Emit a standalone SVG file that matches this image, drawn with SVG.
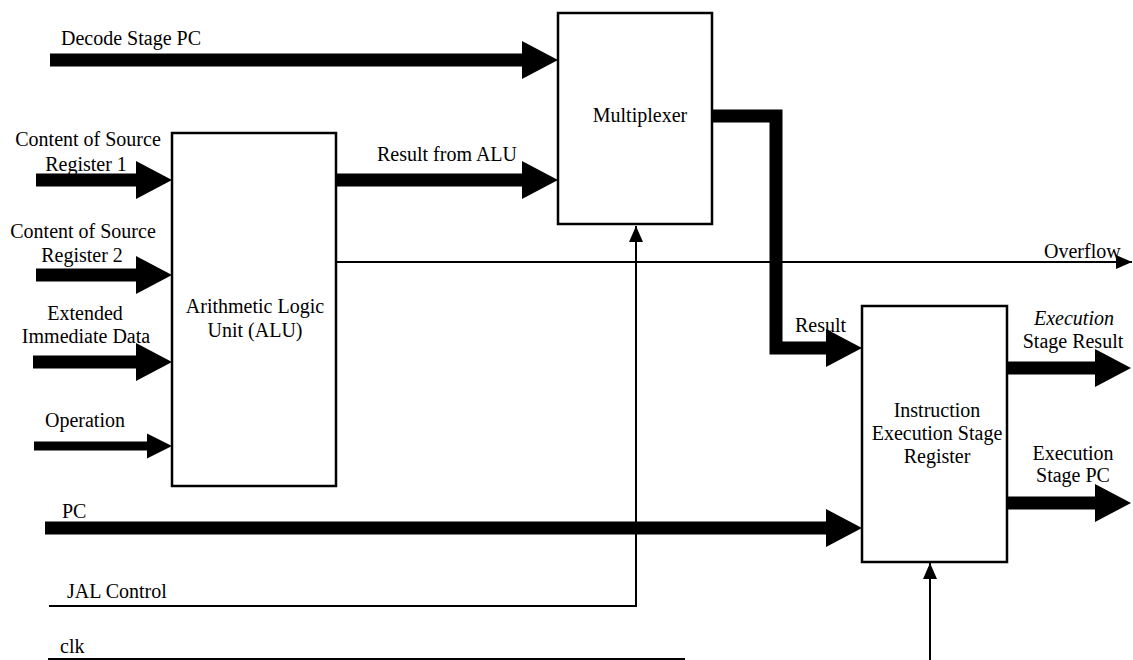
<svg xmlns="http://www.w3.org/2000/svg" width="1133" height="660" viewBox="0 0 1133 660">
<defs>
<style>
.box{fill:#fff;stroke:#000;stroke-width:2.5}
.t{font-family:"Liberation Serif","Times New Roman",serif;font-size:20px;fill:#000}
.c{text-anchor:middle}
.thick{stroke:#000;stroke-width:13;fill:none;stroke-linejoin:miter}
.op{stroke:#000;stroke-width:9;fill:none}
.thin{stroke:#000;stroke-width:2;fill:none}
</style>
<marker id="big" markerUnits="userSpaceOnUse" markerWidth="38" markerHeight="40" refX="0" refY="19" orient="auto" overflow="visible">
<path d="M0,0 L36,19 L0,38 z" fill="#000"/>
</marker>
<marker id="mid" markerUnits="userSpaceOnUse" markerWidth="26" markerHeight="26" refX="0" refY="12.5" orient="auto" overflow="visible">
<path d="M0,0 L25,12.5 L0,25 z" fill="#000"/>
</marker>
<marker id="small" markerUnits="userSpaceOnUse" markerWidth="16" markerHeight="14" refX="16" refY="7" orient="auto" overflow="visible">
<path d="M0,0 L16,7 L0,14 z" fill="#000"/>
</marker>
</defs>
<rect width="1133" height="660" fill="#fff"/>

<g id="connectors">
<line class="thick" x1="50" y1="60" x2="522" y2="60" marker-end="url(#big)"/>
<line class="thick" x1="36" y1="180" x2="136" y2="180" marker-end="url(#big)"/>
<line class="thick" x1="336" y1="180" x2="522" y2="180" marker-end="url(#big)"/>
<line class="thick" x1="36" y1="275" x2="136" y2="275" marker-end="url(#big)"/>
<line class="thick" x1="33" y1="362" x2="136" y2="362" marker-end="url(#big)"/>
<line class="op" x1="34" y1="446" x2="147" y2="446" marker-end="url(#mid)"/>
<line class="thick" x1="45" y1="528" x2="826" y2="528" marker-end="url(#big)"/>
<path class="thick" d="M712,116 H776 V348 H826" marker-end="url(#big)"/>
<line class="thick" x1="1007" y1="368" x2="1095" y2="368" marker-end="url(#big)"/>
<line class="thick" x1="1007" y1="503" x2="1095" y2="503" marker-end="url(#big)"/>
<line class="thin" x1="336" y1="262" x2="1132" y2="262" marker-end="url(#small)"/>
<path class="thin" d="M49,606 H636 V226" marker-end="url(#small)"/>
<line class="thin" x1="48" y1="659" x2="685" y2="659"/>
<line class="thin" x1="930" y1="662" x2="930" y2="563" marker-end="url(#small)"/>
</g>

<g id="mux">
<rect class="box" x="558" y="13" width="154" height="211"/>
<text class="t c" x="640" y="122">Multiplexer</text>
</g>

<g id="alu">
<rect class="box" x="172" y="133" width="164" height="353"/>
<text class="t c" x="255" y="313">Arithmetic Logic</text>
<text class="t c" x="255" y="337">Unit (ALU)</text>
</g>

<g id="reg">
<rect class="box" x="862" y="306" width="145" height="256"/>
<text class="t c" x="937" y="417">Instruction</text>
<text class="t c" x="937" y="440">Execution Stage</text>
<text class="t c" x="937" y="463">Register</text>
</g>

<g id="labels">
<text class="t" x="61" y="45">Decode Stage PC</text>
<text class="t c" x="88" y="146">Content of Source</text>
<text class="t c" x="86" y="171">Register 1</text>
<text class="t" x="377" y="161">Result from ALU</text>
<text class="t c" x="83" y="238">Content of Source</text>
<text class="t c" x="82" y="262">Register 2</text>
<text class="t c" x="85" y="320">Extended</text>
<text class="t c" x="86" y="343">Immediate Data</text>
<text class="t c" x="85" y="427">Operation</text>
<text class="t" x="62" y="518">PC</text>
<text class="t" x="67" y="598">JAL Control</text>
<text class="t" x="60" y="653">clk</text>
<text class="t" x="1044" y="258">Overflow</text>
<text class="t" x="795" y="332">Result</text>
<text class="t c" x="1074" y="325" font-style="italic">Execution</text>
<text class="t c" x="1073" y="348">Stage Result</text>
<text class="t c" x="1073" y="460">Execution</text>
<text class="t c" x="1073" y="482">Stage PC</text>
</g>
</svg>
